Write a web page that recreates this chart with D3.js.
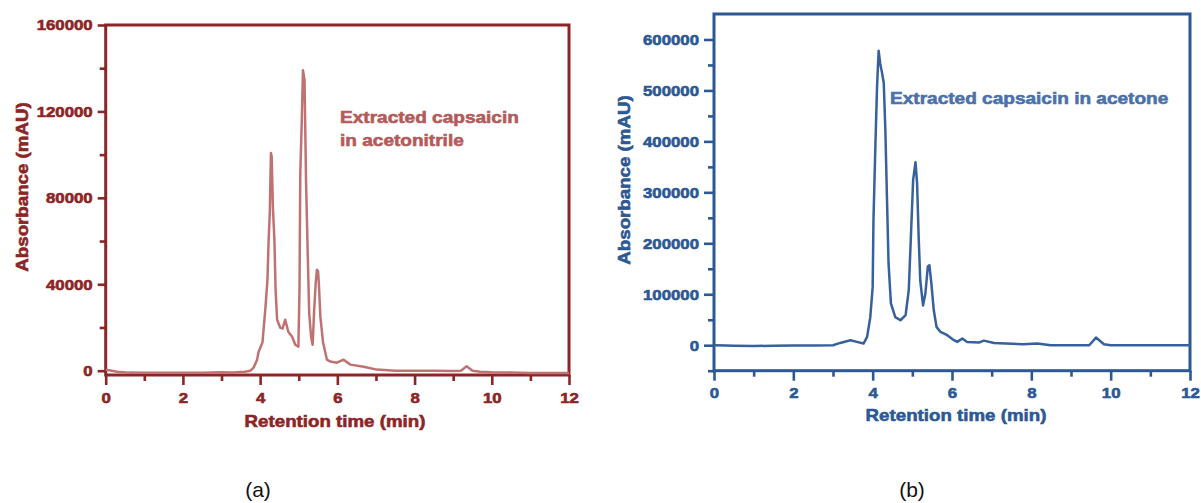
<!DOCTYPE html>
<html>
<head>
<meta charset="utf-8">
<script src="https://cdn.jsdelivr.net/npm/d3@7"></script>
<style>
  html, body { margin: 0; padding: 0; background: #fff; }
  svg { display: block; }
  text { font-family: "Liberation Sans", Arial, sans-serif; }
</style>
</head>
<body>
<svg id="chart" width="1201" height="503"></svg>
<script>
// panel (a): extracted capsaicin in acetonitrile
const timesA = [0, 0.05, 0.3, 0.6, 1.0, 1.5, 2.0, 2.5, 3.0, 3.3, 3.6, 3.75, 3.83, 3.92, 3.96,
  4.06, 4.14, 4.19, 4.22, 4.25, 4.28, 4.30, 4.33, 4.37, 4.40, 4.44, 4.52, 4.58, 4.65, 4.73,
  4.83, 4.91, 4.99, 5.02, 5.04, 5.07, 5.11, 5.15, 5.19, 5.23, 5.27, 5.32, 5.36, 5.40, 5.44,
  5.47, 5.50, 5.52, 5.56, 5.63, 5.73, 5.82, 5.99, 6.16, 6.34, 6.68, 7.02, 7.5, 8.0, 8.5,
  9.0, 9.2, 9.35, 9.5, 9.7, 10.0, 10.5, 11.0, 11.5, 12.0];
const valuesA = [500, 300, -500, -900, -1000, -1000, -1000, -1000, -700, -800, -500, 0, 1400, 5000, 8800,
  13000, 29600, 42000, 60500, 73000, 100800, 99000, 75800, 60500, 37500, 23600, 19900, 19500, 23600, 18000,
  15700, 12000, 11100, 37500, 91500, 110000, 139000, 134500, 87000, 56000, 26800, 15700, 12000, 28200, 40700,
  46700, 46000, 40700, 25000, 13000, 5100, 4200, 3700, 5100, 2800, 1800, 500, 0, 0, 0,
  -200, 0, 2000, 0, -500, -700, -800, -1100, -1100, -1100];
const yTicksA = [0, 40000, 80000, 120000, 160000];
const yMinorA = [20000, 60000, 100000, 140000];

// panel (b): extracted capsaicin in acetone
const timesB = [0, 0.3, 0.5, 1.0, 1.5, 2.0, 2.5, 3.0, 3.18, 3.44, 3.6, 3.77, 3.86, 3.94, 4.00,
  4.02, 4.07, 4.11, 4.15, 4.19, 4.24, 4.28, 4.32, 4.36, 4.40, 4.46, 4.57, 4.70, 4.83, 4.91,
  4.97, 5.02, 5.08, 5.12, 5.16, 5.20, 5.27, 5.33, 5.39, 5.43, 5.48, 5.54, 5.61, 5.71, 5.88,
  6.05, 6.13, 6.26, 6.38, 6.68, 6.8, 7.06, 7.8, 8.15, 8.49, 9.46, 9.63, 9.83, 10.0, 12.0];
const valuesB = [0, -500, -1000, -1500, -1000, -500, -500, 0, 4500, 9800, 6500, 3300, 16300, 55000, 114000,
  245000, 396000, 506000, 578000, 553000, 533000, 514000, 422000, 291000, 161000, 82000, 55000, 49000, 59000, 108000,
  225000, 324000, 359000, 318000, 212000, 127000, 78000, 102000, 154000, 157000, 121000, 69000, 36000, 26000, 19600,
  9800, 6500, 13000, 6500, 5200, 9000, 4500, 2000, 3300, 0, 0, 15000, 2000, 0, 0];
const yTicksB = [0, 100000, 200000, 300000, 400000, 500000, 600000];
const yMinorB = [-50000, 50000, 150000, 250000, 350000, 450000, 550000];

const xTicks = [0, 2, 4, 6, 8, 10, 12];
const xMinor = [1, 3, 5, 7, 9, 11];

const svg = d3.select("#chart");

// the source picture is slightly stretched sideways and its text looks heavier
function stretch(sel, k, color) {
  sel.attr("stroke", color).attr("stroke-width", 0.6);
  sel.each(function () {
    const w = this.getComputedTextLength();
    d3.select(this).attr("textLength", w * k).attr("lengthAdjust", "spacingAndGlyphs");
  });
}

function drawPanel(p) {
  const g = svg.append("g");
  const x = d3.scaleLinear().domain([0, 12]).range(p.xRange);
  const y = d3.scaleLinear().domain(p.yDomain).range(p.yRange);

  const styleAxis = (ag) => {
    ag.select(".domain").remove();
    ag.selectAll("line").attr("stroke", p.axisColor).attr("stroke-width", 2.6);
    ag.selectAll("text")
      .attr("fill", p.axisColor)
      .attr("font-size", 15)
      .attr("font-weight", "bold");
  };

  // minor ticks
  g.append("g")
    .attr("transform", `translate(0,${p.yRange[0]})`)
    .call(d3.axisBottom(x).tickValues(xMinor).tickSize(6).tickFormat(""))
    .call(styleAxis);
  g.append("g")
    .attr("transform", `translate(${p.xRange[0]},0)`)
    .call(d3.axisLeft(y).tickValues(p.yMinor).tickSize(6).tickFormat(""))
    .call(styleAxis);

  // major ticks
  const xAx = g.append("g")
    .attr("transform", `translate(0,${p.yRange[0]})`)
    .call(d3.axisBottom(x).tickValues(xTicks).tickSize(10).tickPadding(7).tickFormat(d3.format("d")))
    .call(styleAxis);
  const yAx = g.append("g")
    .attr("transform", `translate(${p.xRange[0]},0)`)
    .call(d3.axisLeft(y).tickValues(p.yTicks).tickSize(p.yTickSize).tickPadding(5).tickFormat(d3.format("d")))
    .call(styleAxis);
  stretch(xAx.selectAll("text"), 1.12, p.axisColor);
  stretch(yAx.selectAll("text"), 1.12, p.axisColor);

  // frame
  g.append("rect")
    .attr("x", p.xRange[0])
    .attr("y", p.yRange[1])
    .attr("width", p.xRange[1] - p.xRange[0])
    .attr("height", p.yRange[0] - p.yRange[1])
    .attr("fill", "none")
    .attr("stroke", p.axisColor)
    .attr("stroke-width", 3);

  const line = d3.line()
    .x((d, i) => x(p.times[i]))
    .y(d => y(d));

  g.append("path")
    .datum(p.values)
    .attr("fill", "none")
    .attr("stroke", p.lineColor)
    .attr("stroke-width", 2.5)
    .attr("stroke-linejoin", "round")
    .attr("d", line);

  // axis titles
  const xt = g.append("text")
    .attr("x", p.xTitle[0])
    .attr("y", p.xTitle[1])
    .attr("text-anchor", "middle")
    .attr("font-size", 17)
    .attr("font-weight", "bold")
    .attr("fill", p.axisColor)
    .text("Retention time (min)");
  stretch(xt, 1.1, p.axisColor);

  const yt = g.append("text")
    .attr("transform", `translate(${p.yTitle[0]},${p.yTitle[1]}) rotate(-90)`)
    .attr("text-anchor", "middle")
    .attr("font-size", 17)
    .attr("font-weight", "bold")
    .attr("fill", p.axisColor)
    .text("Absorbance (mAU)");
  stretch(yt, 1.1, p.axisColor);

  // annotation
  p.note.forEach((s, i) => {
    const t = g.append("text")
      .attr("x", p.notePos[0])
      .attr("y", p.notePos[1] + i * 23)
      .attr("font-size", 17)
      .attr("font-weight", "bold")
      .attr("fill", p.noteColor)
      .text(s);
    stretch(t, 1.12, p.noteColor);
  });

  // panel letter
  g.append("text")
    .attr("x", p.letterPos[0])
    .attr("y", p.letterPos[1])
    .attr("text-anchor", "middle")
    .attr("font-family", "'Noto Sans', sans-serif")
    .attr("font-size", 21)
    .attr("fill", "#111")
    .text(p.letter);
}

drawPanel({
  times: timesA, values: valuesA,
  xRange: [105.7, 569], yRange: [375, 25], yDomain: [-2000, 160000],
  yTicks: yTicksA, yMinor: yMinorA, yTickSize: 8,
  axisColor: "#8c2525", lineColor: "#c07272", noteColor: "#b35a5a",
  xTitle: [335, 427], yTitle: [28, 187],
  note: ["Extracted capsaicin", "in acetonitrile"], notePos: [340, 123],
  letter: "(a)", letterPos: [258, 497]
});

drawPanel({
  times: timesB, values: valuesB,
  xRange: [714, 1190], yRange: [370.7, 14], yDomain: [-50000, 650000],
  yTicks: yTicksB, yMinor: yMinorB, yTickSize: 10,
  axisColor: "#2c5894", lineColor: "#36619c", noteColor: "#4a71a9",
  xTitle: [956, 421], yTitle: [630, 180],
  note: ["Extracted capsaicin in acetone"], notePos: [890, 104],
  letter: "(b)", letterPos: [912, 497]
});
</script>
</body>
</html>
